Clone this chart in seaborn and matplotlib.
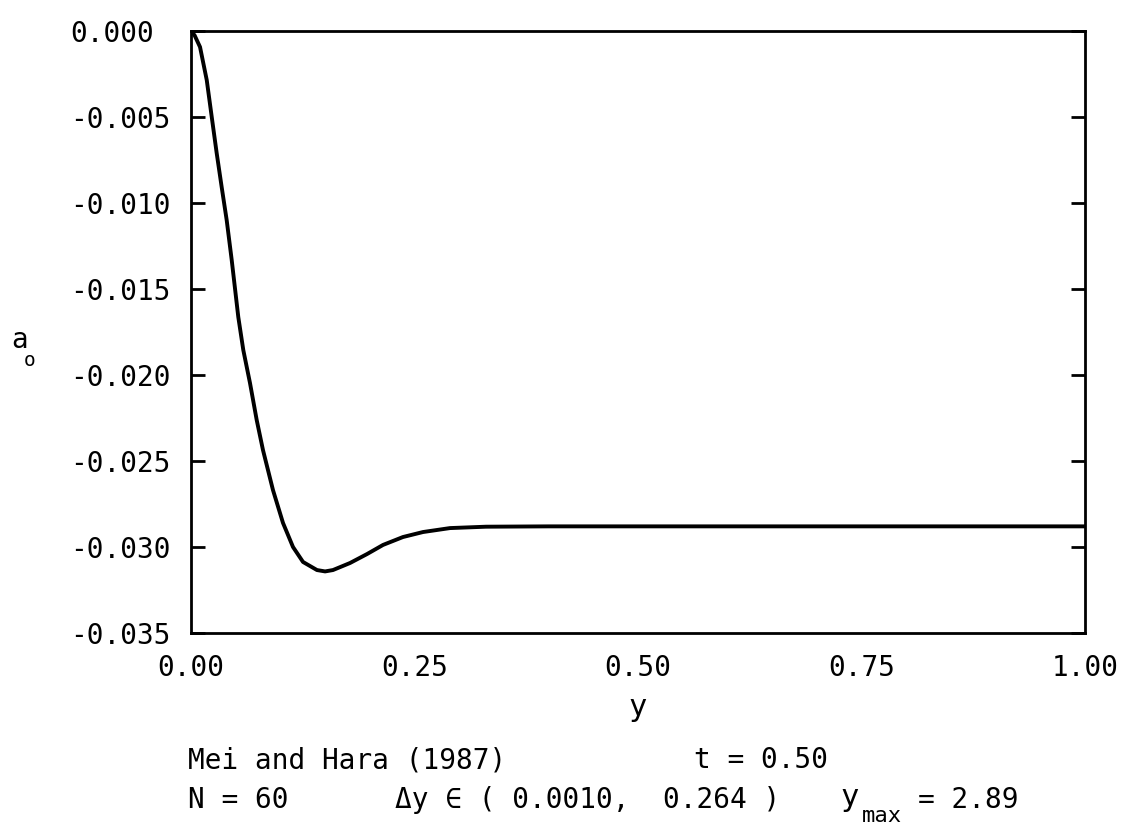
import numpy as np
import pandas as pd
import matplotlib
matplotlib.use('Agg')
import matplotlib.pyplot as plt
import seaborn as sns

# curve a_0(y)
y_vals = [0.000, 0.004, 0.0101, 0.0176, 0.0232, 0.0287, 0.0343, 0.0399, 0.0455,
          0.0529, 0.0585, 0.0660, 0.0735, 0.0805, 0.0917, 0.1029, 0.1141, 0.1253,
          0.1409, 0.1500, 0.1588, 0.1779, 0.1969, 0.2148, 0.2371, 0.2595, 0.2897,
          0.3300, 0.4000, 0.5000, 0.6000, 0.7000, 0.8000, 0.9000, 1.0000]
a0_vals = [0.0000, -0.00025, -0.00093, -0.00285, -0.0050, -0.00709, -0.00907, -0.01099, -0.0133,
           -0.01663, -0.01855, -0.02047, -0.02262, -0.02436, -0.02669, -0.0286, -0.0300, -0.03087,
           -0.03134, -0.03142, -0.03134, -0.03093, -0.03041, -0.02988, -0.02942, -0.02913, -0.0289,
           -0.02882, -0.0288, -0.0288, -0.0288, -0.0288, -0.0288, -0.0288, -0.0288]

xticks = [0.0, 0.25, 0.5, 0.75, 1.0]
xtick_labels = ['0.00', '0.25', '0.50', '0.75', '1.00']
yticks = [0.0, -0.005, -0.010, -0.015, -0.020, -0.025, -0.030, -0.035]
ytick_labels = ['0.000', '-0.005', '-0.010', '-0.015', '-0.020', '-0.025', '-0.030', '-0.035']

df = pd.DataFrame({'y': y_vals, 'a0': a0_vals})

sns.set_style('white')
plt.rcParams['font.family'] = ['DejaVu Sans Mono', 'DejaVu Sans']
plt.rcParams['text.color'] = 'black'
plt.rcParams['axes.labelcolor'] = 'black'
plt.rcParams['xtick.color'] = 'black'
plt.rcParams['ytick.color'] = 'black'

fig = plt.figure(figsize=(11.22, 8.33), dpi=100)
ax = fig.add_axes([191 / 1122, 1 - 633 / 833, (1085 - 191) / 1122, (633 - 31) / 833])

sns.lineplot(data=df, x='y', y='a0', color='black', linewidth=2.8, ax=ax)

fs = 20
ax.set_xlim(0, 1)
ax.set_ylim(-0.035, 0)
ax.set_xticks(xticks)
ax.set_xticklabels(xtick_labels, fontsize=fs)
ax.set_yticks(yticks)
ax.set_yticklabels(ytick_labels, fontsize=fs)
for lab in ax.get_yticklabels():
    lab.set_ha('left')
ax.tick_params(axis='y', direction='in', length=10, width=2, pad=87,
               left=True, right=True, colors='black')
ax.tick_params(axis='x', length=0, pad=15, colors='black')
for s in ax.spines.values():
    s.set_linewidth(2)
    s.set_color('black')

ax.set_xlabel('y', fontsize=22, labelpad=8, color='black')
ax.set_ylabel('')

fig.text(20 / 1122, 1 - 340 / 833, 'a', fontsize=fs, ha='center', va='center')
fig.text(30 / 1122, 1 - 360 / 833, 'o', fontsize=14, ha='center', va='center')

fig.text(188 / 1122, 1 - 760 / 833, 'Mei and Hara (1987)', fontsize=fs, va='center')
fig.text(694 / 1122, 1 - 760 / 833, 't = 0.50', fontsize=fs, va='center')
fig.text(188 / 1122, 1 - 800 / 833, 'N = 60', fontsize=fs, va='center')
fig.text(395 / 1122, 1 - 800 / 833, '\u0394y \u2208 ( 0.0010,  0.264 )', fontsize=fs, va='center')
fig.text(840 / 1122, 1 - 798 / 833, 'y', fontsize=22, va='center')
fig.text(862 / 1122, 1 - 816 / 833, 'max', fontsize=16, va='center')
fig.text(918 / 1122, 1 - 800 / 833, '= 2.89', fontsize=fs, va='center')

fig.savefig('out.png', dpi=100)
